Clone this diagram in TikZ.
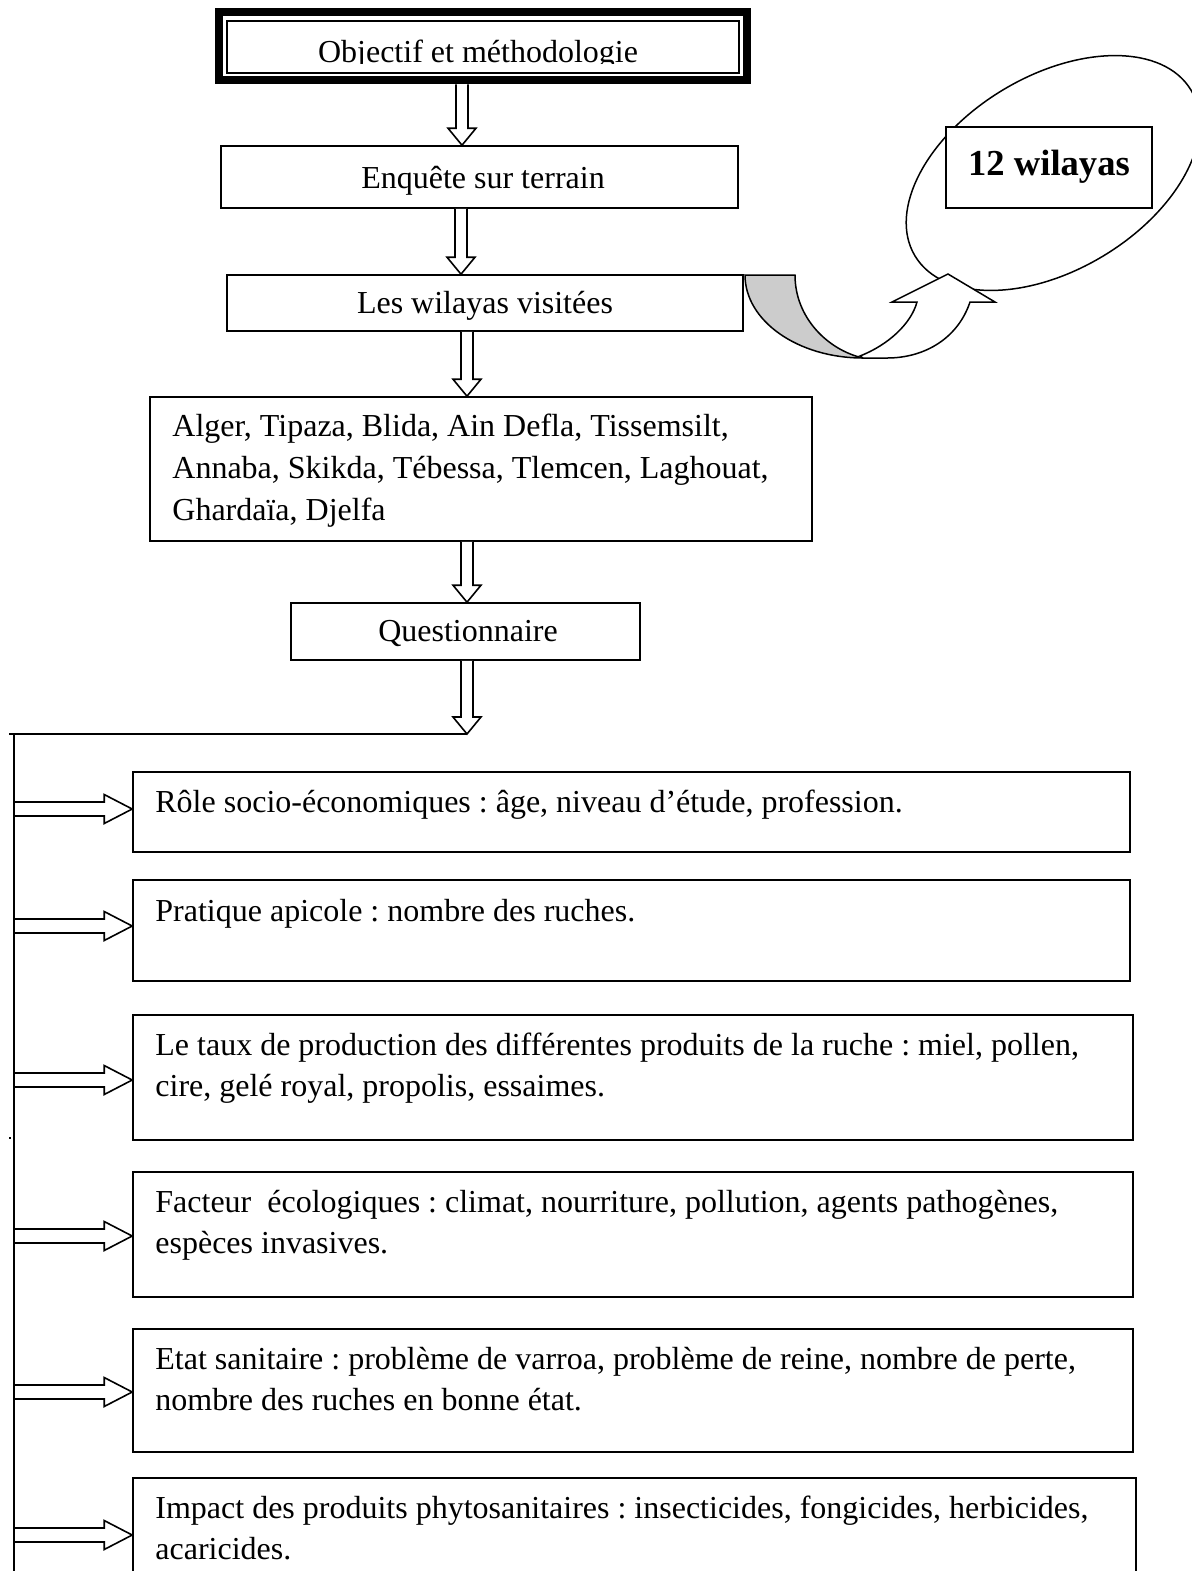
\documentclass[tikz,border=0pt]{standalone}
\usepackage{fontspec}
\setmainfont{Liberation Serif}
\usetikzlibrary{calc,fit}
\frenchspacing
\newcommand\dnarrow[3]{%
  \coordinate (ax) at (#1,0);
  \coordinate (as) at (#2 -| ax);
  \coordinate (at) at (#3 -| ax);
  \draw[blk] ($(as)+(-6,0)$) -- ($(at)+(-6,-17)$) -- ($(at)+(-14,-17)$) -- (at)
    -- ($(at)+(14,-17)$) -- ($(at)+(6,-17)$) -- ($(as)+(6,0)$);}
\newcommand\rtarrow[2]{%
  \coordinate (ay) at (0,#1);
  \coordinate (as) at (bus |- ay);
  \coordinate (at) at (#2.west |- ay);
  \draw[blk] ($(as)+(0,-7)$) -- ($(at)+(-28,-7)$) -- ($(at)+(-28,-14.5)$) -- (at)
    -- ($(at)+(-28,14.5)$) -- ($(at)+(-28,7)$) -- ($(as)+(0,7)$);}
\begin{document}
\begin{tikzpicture}[x=0.5pt,y=-0.5pt,
  box/.style={draw, line width=0.8pt, inner sep=0pt, fill=white},
  txt/.style={anchor=base, inner sep=0pt, font=\fontsize{16}{20}\selectfont\frenchspacing},
  ltxt/.style={anchor=base west, inner sep=0pt, font=\fontsize{16}{20}\selectfont\frenchspacing},
  blk/.style={draw, line width=0.8pt, fill=white},
  thinline/.style={line width=0.8pt}]
\clip (0,0) rectangle (1192,1571);
\fill[white] (0,0) rectangle (1192,1571);

% ---- top box (double border) ----
\node[inner sep=0pt, fit={(215,8) (751,84)}] (top) {};
\draw[line width=4pt] (219,12) rectangle (747,80);
\draw[line width=1pt] (227,21) rectangle (739,73);
\begin{scope}
  \clip (228,22) rectangle (738,63);
  \node[txt] (ttop) at (478,62) {Objectif et méthodologie};
\end{scope}

% ---- main chain boxes ----
\node[box, fit={(221,146) (738,208)}] (enq) {};
\node[txt] (tenq) at (483,188) {Enquête sur terrain};

\node[box, fit={(227,275) (743,331)}] (wil) {};
\node[txt] (twil) at (485,313) {Les wilayas visitées};

\node[box, fit={(150,397) (812,541)}] (alg) {};
\node[ltxt] (talg1) at (172,436) {Alger, Tipaza, Blida, Ain Defla, Tissemsilt,};
\node[ltxt] (talg2) at (172,478) {Annaba, Skikda, Tébessa, Tlemcen, Laghouat,};
\node[ltxt] (talg3) at (172,520) {Ghardaïa, Djelfa};

\node[box, fit={(291,603) (640,660)}] (que) {};
\node[txt] (tque) at (468,641) {Questionnaire};

% ---- ellipse and 12 wilayas ----
\draw[line width=0.75pt, rotate around={31:(1053,173)}] (1053,173) ellipse [x radius=161, y radius=97];
\node[box, fit={(946,127) (1152,208)}] (twelve) {};
\node[anchor=base, inner sep=0pt, font=\fontsize{18.3}{22}\selectfont\bfseries] (ttwelve) at (1049,175) {12 wilayas};

% ---- curved arrow ----
\draw[line width=0.75pt, fill=black!20] (745,275) .. controls (745,321) and (798,358) .. (863,358)
   .. controls (828,350) and (795,318) .. (795,275) -- cycle;
\draw[line width=0.75pt, fill=white] (860,356) .. controls (888,345) and (911,324) .. (917,302)
   -- (892,302) -- (948,274) -- (995,302) -- (970,302)
   .. controls (958,338) and (925,358) .. (887,358) -- (863,358) -- cycle;

% ---- lower boxes ----
\node[box, fit={(133,772) (1130,852)}] (b1) {};
\node[ltxt] (tb1) at (155,812) {Rôle socio-économiques : âge, niveau d’étude, profession.};

\node[box, fit={(133,880) (1130,981)}] (b2) {};
\node[ltxt] (tb2) at (155,921) {Pratique apicole : nombre des ruches.};

\node[box, fit={(133,1015) (1133,1140)}] (b3) {};
\node[ltxt] (tb3a) at (155,1055) {Le taux de production des différentes produits de la ruche : miel, pollen,};
\node[ltxt] (tb3b) at (155,1096) {cire, gelé royal, propolis, essaimes.};

\node[box, fit={(133,1172) (1133,1297)}] (b4) {};
\node[ltxt] (tb4a) at (155,1212) {Facteur\ \ écologiques : climat, nourriture, pollution, agents pathogènes,};
\node[ltxt] (tb4b) at (155,1253) {espèces invasives.};

\node[box, fit={(133,1329) (1133,1452)}] (b5) {};
\node[ltxt] (tb5a) at (155,1369) {Etat sanitaire : problème de varroa, problème de reine, nombre de perte,};
\node[ltxt] (tb5b) at (155,1410) {nombre des ruches en bonne état.};

\node[box, fit={(133,1478) (1136,1600)}] (b6) {};
\node[ltxt] (tb6a) at (155,1518) {Impact des produits phytosanitaires : insecticides, fongicides, herbicides,};
\node[ltxt] (tb6b) at (155,1559) {acaricides.};

% ---- vertical hollow arrows ----
\coordinate (tip) at (467,734);
\dnarrow{462}{top.south}{enq.north}
\dnarrow{461}{enq.south}{wil.north}
\dnarrow{467}{wil.south}{alg.north}
\dnarrow{467}{alg.south}{que.north}
\dnarrow{467}{que.south}{tip}

% ---- bus ----
\coordinate (bus) at (14,734);
\coordinate (busend) at (14,1580);
\coordinate (busleft) at (9,734);

\rtarrow{809}{b1}
\rtarrow{926}{b2}
\rtarrow{1080}{b3}
\rtarrow{1236}{b4}
\rtarrow{1392}{b5}
\rtarrow{1535}{b6}

\draw[thinline] (busleft) -- (tip);
\draw[thinline] (bus) -- (busend);
\fill (9,1137) rectangle (11,1139);
\end{tikzpicture}
\end{document}
